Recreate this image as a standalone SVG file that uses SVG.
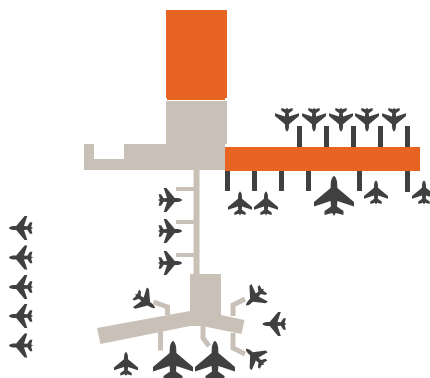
<svg xmlns="http://www.w3.org/2000/svg" width="430" height="378" viewBox="0 0 430 378">
<style>
.o{fill:#e86423}
.g{fill:#c9c0b8}
.d{fill:#404040}
.j{fill:none;stroke:#c9c0b8;stroke-width:5}
.p{fill:#404040}
</style>
<defs>
<path id="plane" d="M0,-20C1.500,-20 3,-16 3.200,-13L3.400,-8L20,6L20,10.500L3.400,5L3,10.500L9.500,15V19L1.800,17L0,20L-1.800,17L-9.500,19V15L-3,10.500L-3.400,5L-20,10.500L-20,6L-3.400,-8L-3.200,-13C-3,-16 -1.500,-20 0,-20Z"/>
</defs>
<g id="terminal">
<rect class="o" x="166" y="10" width="61" height="88"/>
<rect class="o" x="167" y="98" width="58" height="2"/>
<path class="g" d="M166,101H227V144H225V170H84V144H94V159H124V144H166Z"/>
<rect class="g" x="193.500" y="170" width="6" height="104"/>
<rect class="g" x="176" y="187" width="18" height="4"/>
<rect class="g" x="176" y="220" width="18" height="4"/>
<rect class="g" x="176" y="253" width="18" height="4"/>
<path class="g" d="M190,274H221V315L244.500,320L241.500,334L202,326H190L100.500,344L97,328L190,311Z"/>
<path class="j" d="M167.500,315V307L153.500,302"/>
<path class="j" d="M160.500,330V350.500"/>
<path class="j" d="M203,326V338L209,346"/>
<path class="j" d="M233,316V305L245,299"/>
<path class="j" d="M233,333V348L245,354"/>
</g>
<g id="concourse">
<rect class="o" x="225" y="147" width="195" height="24"/>
<g class="d">
<rect x="297" y="126" width="5" height="21"/>
<rect x="324" y="126" width="5" height="21"/>
<rect x="351" y="126" width="5" height="21"/>
<rect x="378" y="126" width="5" height="21"/>
<rect x="405" y="126" width="5" height="21"/>
<rect x="225" y="171" width="5" height="20"/>
<rect x="252" y="171" width="5" height="20"/>
<rect x="279" y="171" width="5" height="20"/>
<rect x="306" y="171" width="5" height="20"/>
<rect x="357" y="171" width="5" height="20"/>
<rect x="405" y="171" width="5" height="21"/>
</g>
</g>
<g id="planes" class="p">
<use href="#plane" transform="translate(287,119.500) rotate(180) scale(.6)"/>
<use href="#plane" transform="translate(314,119.500) rotate(180) scale(.6)"/>
<use href="#plane" transform="translate(341,119.500) rotate(180) scale(.6)"/>
<use href="#plane" transform="translate(367,119.500) rotate(180) scale(.6)"/>
<use href="#plane" transform="translate(394,119.500) rotate(180) scale(.6)"/>
<use href="#plane" transform="translate(240,203.500) scale(.6)"/>
<use href="#plane" transform="translate(266,203.500) scale(.6)"/>
<use href="#plane" transform="translate(334,196)"/>
<use href="#plane" transform="translate(376,192.500) scale(.6)"/>
<use href="#plane" transform="translate(424,192.500) scale(.6)"/>
<use href="#plane" transform="translate(170,200) rotate(90) scale(.6)"/>
<use href="#plane" transform="translate(170,231) rotate(90) scale(.6)"/>
<use href="#plane" transform="translate(170,263) rotate(90) scale(.6)"/>
<use href="#plane" transform="translate(21,228) rotate(-90) scale(.6)"/>
<use href="#plane" transform="translate(21,257.500) rotate(-90) scale(.6)"/>
<use href="#plane" transform="translate(21,287) rotate(-90) scale(.6)"/>
<use href="#plane" transform="translate(21,316) rotate(-90) scale(.6)"/>
<use href="#plane" transform="translate(21,345.500) rotate(-90) scale(.6)"/>
<use href="#plane" transform="translate(173,361)"/>
<use href="#plane" transform="translate(215,361)"/>
<use href="#plane" transform="translate(126,364) scale(.6)"/>
<use href="#plane" transform="translate(145,301) rotate(125) scale(.6)"/>
<use href="#plane" transform="translate(255,297) rotate(-133) scale(.6)"/>
<use href="#plane" transform="translate(274.500,324) rotate(-90) scale(.6)"/>
<use href="#plane" transform="translate(255,357) rotate(-48) scale(.6)"/>
</g>
</svg>
